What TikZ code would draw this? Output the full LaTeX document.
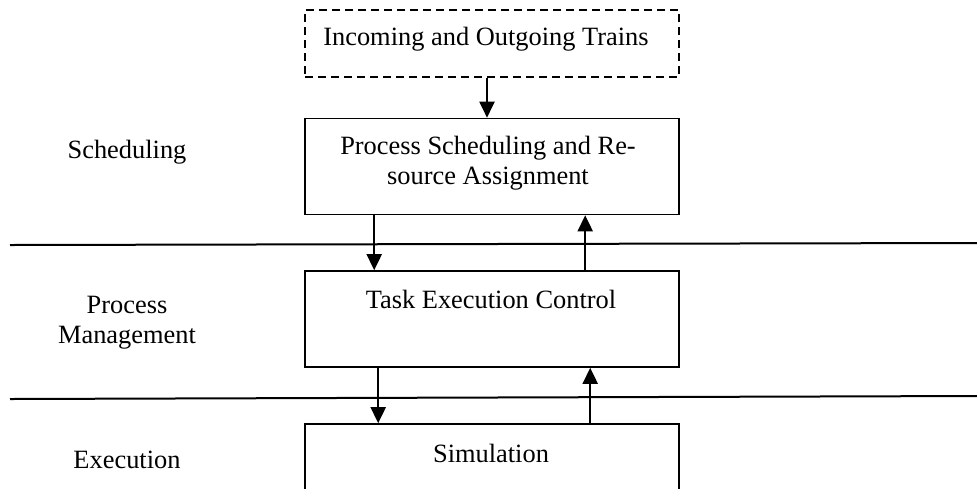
\documentclass[tikz,border=0pt]{standalone}
\usepackage{fontspec}
\setmainfont{Liberation Serif}
\usetikzlibrary{arrows.meta}

\begin{document}
\begin{tikzpicture}[x=0.5pt,y=-0.5pt,
  layer/.style={draw, line width=0.8pt, minimum width=187pt, minimum height=48pt, inner sep=0pt},
  lbl/.style={font=\fontsize{13.2}{15}\selectfont, inner sep=0pt, anchor=base, align=center},
  flow/.style={-{Triangle[length=8pt,width=7.5pt]}, line width=1pt},
  sep/.style={line width=1pt}]

\useasboundingbox (0,0) rectangle (977,488);

\node[layer, dash pattern=on 4pt off 2.5pt, minimum height=33.5pt] (trains) at (492,43.5) {};
\node[layer] (sched) at (492,166.5) {};
\node[layer] (ctrl) at (492,319) {};
\node[layer] (sim) at (492,472) {};

\node[lbl] (trainstxt) at (486,45) {Incoming and Outgoing Trains};
\node[lbl] (schedtxt) at (488,184) {Process Scheduling and Re-\\source Assignment};
\node[lbl] (ctrltxt) at (491,308) {Task Execution Control};
\node[lbl] (simtxt) at (491,462) {Simulation};

\node[lbl] (schedlbl) at (127,158) {Scheduling};
\node[lbl] (ctrllbl) at (127,343) {Process\\Management};
\node[lbl] (simlbl) at (127,468) {Execution};

\draw[sep] (10,245) -- (977,243);
\draw[sep] (10,399) -- (977,396);

\draw[flow] ([xshift=-2.5pt]trains.south) -- ([xshift=-2.5pt]sched.north);
\draw[flow] ([xshift=35pt]sched.south west) -- ([xshift=35pt]ctrl.north west);
\draw[flow] ([xshift=140.5pt]ctrl.north west) -- ([xshift=140.5pt]sched.south west);
\draw[flow] ([xshift=37pt]ctrl.south west) -- ([xshift=37pt]sim.north west);
\draw[flow] ([xshift=143pt]sim.north west) -- ([xshift=143pt]ctrl.south west);

\end{tikzpicture}
\end{document}
